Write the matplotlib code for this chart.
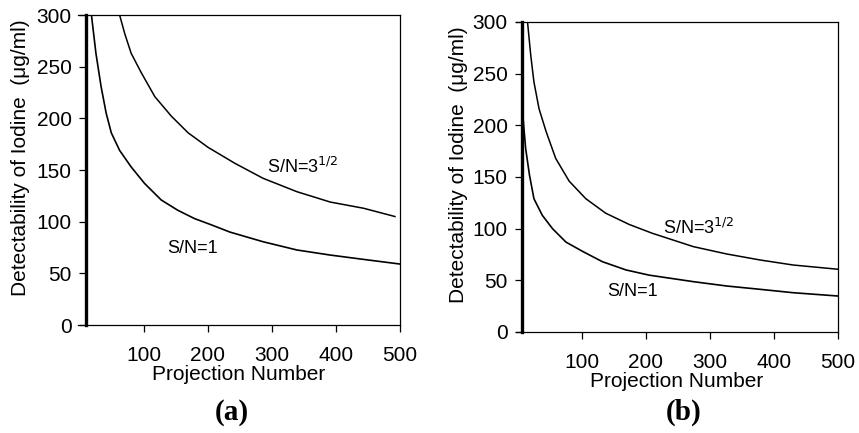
import numpy as np
import matplotlib.pyplot as plt

plt.rcParams['font.family'] = ['Liberation Sans', 'DejaVu Sans']

# values (projection number vs detectability)
proj_a_sn1 = [18, 25, 33, 41, 49, 62, 80, 101, 127, 153, 179, 205, 234,
              286, 339, 391, 443, 500]
det_a_sn1 = [300, 263, 231, 205, 186, 169, 153, 137, 121, 111, 103, 97, 90,
             80.6, 72.6, 67.7, 63.5, 59]
proj_a_sn3 = [62, 70, 80, 96, 117, 143, 169, 200, 242, 286, 339, 391, 443,
              492]
det_a_sn3 = [300, 282, 263, 244, 221, 202, 186, 172, 156.5, 142, 129, 119,
             113, 105]

proj_b_sn1 = [7, 8, 12, 18, 25, 38, 54, 75, 101, 132, 169, 205, 274, 326,
              378, 430, 500]
det_b_sn1 = [300, 207, 178, 152, 129, 113, 100, 87, 78, 68, 60, 55, 48.7,
             44.5, 41.3, 38, 34.8]
proj_b_sn3 = [15, 20, 25, 33, 44, 59, 80, 106, 137, 174, 210, 274, 326, 378,
              430, 500]
det_b_sn3 = [300, 268, 242, 216, 194, 168, 146, 129, 115, 104, 95.5, 82.6,
             75.5, 69.7, 64.8, 60.7]

x_ticks = [100, 200, 300, 400, 500]
y_ticks = [0, 50, 100, 150, 200, 250, 300]

fig = plt.figure(figsize=(8.59, 4.33), dpi=100)
ax_a = fig.add_axes([0.0908, 0.2494, 0.3749, 0.7159])
ax_b = fig.add_axes([0.6007, 0.2333, 0.3749, 0.7159])


def panel(ax, xs1, ys1, xs3, ys3, yaxis_at, lab1, lab3, tag, tag_x):
    ax.plot(xs1, ys1, color='black', lw=1.2)
    ax.plot(xs3, ys3, color='black', lw=1.1)
    ax.set_xlim(-3, 500)
    ax.set_ylim(0, 300)
    ax.set_xticks(x_ticks)
    ax.set_yticks(y_ticks)
    ax.spines['left'].set_position(('data', yaxis_at))
    ax.spines['left'].set_linewidth(2.4)
    for s in ['top', 'right', 'bottom']:
        ax.spines[s].set_linewidth(0.9)
    ax.tick_params(axis='both', direction='out', length=5, width=0.9,
                   labelsize=15)
    ax.tick_params(axis='y', pad=5)
    ax.tick_params(axis='x', pad=10)
    ax.set_xlabel('Projection Number', fontsize=15, labelpad=0)
    ax.set_ylabel('Detectability of Iodine  (\u03bcg/ml)', fontsize=15)
    ax.yaxis.set_label_coords(-0.148, 0.54)
    ax.text(lab1[0], lab1[1], 'S/N=1', fontsize=13, va='center')
    ax.text(lab3[0], lab3[1], 'S/N=3$^{1/2}$', fontsize=13, va='center')
    fig.text(tag_x, 0.048, tag, fontsize=21, fontweight='bold',
             family='Liberation Serif', ha='center', va='center')


panel(ax_a, proj_a_sn1, det_a_sn1, proj_a_sn3, det_a_sn3, 9,
      (136, 74), (292, 153), '(a)', 0.270)
panel(ax_b, proj_b_sn1, det_b_sn1, proj_b_sn3, det_b_sn3, 6,
      (139, 39), (227, 101), '(b)', 0.796)

fig.savefig('out.png', dpi=100)
